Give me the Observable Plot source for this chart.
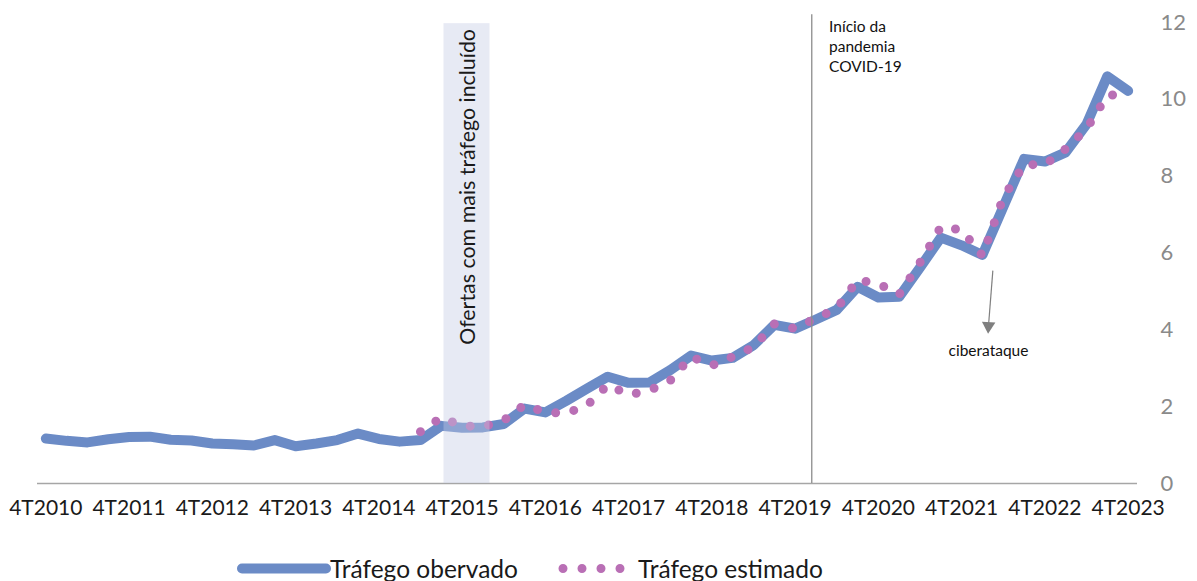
<!DOCTYPE html>
<html>
<head>
<meta charset="utf-8">
<script src="https://cdn.jsdelivr.net/npm/d3@7"></script>
<script src="https://cdn.jsdelivr.net/npm/@observablehq/plot@0.6"></script>
<style>
  html, body { margin: 0; padding: 0; background: #fff; }
  body { font-family: Lato, "Open Sans", sans-serif; color: #1a1a1a; }
  #legend { position: relative; width: 1197px; height: 48px; }
  .lg { position: absolute; top: 35px; transform: translateY(-50%); display: flex; align-items: center; font-size: 24.5px; white-space: nowrap; }
  .lg svg { display: block; }
</style>
</head>
<body>
<div id="chart"></div>
<div id="legend"></div>
<script>
// ---- Data ----
const quarters = [
  "4T2010",
  "1T2011","2T2011","3T2011","4T2011",
  "1T2012","2T2012","3T2012","4T2012",
  "1T2013","2T2013","3T2013","4T2013",
  "1T2014","2T2014","3T2014","4T2014",
  "1T2015","2T2015","3T2015","4T2015",
  "1T2016","2T2016","3T2016","4T2016",
  "1T2017","2T2017","3T2017","4T2017",
  "1T2018","2T2018","3T2018","4T2018",
  "1T2019","2T2019","3T2019","4T2019",
  "1T2020","2T2020","3T2020","4T2020",
  "1T2021","2T2021","3T2021","4T2021",
  "1T2022","2T2022","3T2022","4T2022",
  "1T2023","2T2023","3T2023","4T2023"
];
const observed = [
  1.17,
  1.11, 1.07, 1.15, 1.21,
  1.22, 1.14, 1.12, 1.04,
  1.02, 0.99, 1.13, 0.97,
  1.04, 1.13, 1.30, 1.16,
  1.09, 1.13, 1.50, 1.45,
  1.46, 1.55, 1.95, 1.85,
  2.15, 2.47, 2.78, 2.62,
  2.63, 2.95, 3.33, 3.20,
  3.27, 3.60, 4.13, 4.03,
  4.27, 4.52, 5.12, 4.84,
  4.86, 5.62, 6.40, 6.20,
  5.95, 7.20, 8.45, 8.38,
  8.62, 9.35, 10.60, 10.22
];
const estimated = [
  null,
  null, null, null, null,
  null, null, null, null,
  null, null, null, null,
  null, null, null, null,
  null, 1.35, 1.72, 1.50,
  1.48, 1.64, 2.05, 1.85,
  1.83, 2.03, 2.57, 2.31,
  2.42, 2.68, 3.30, 3.07,
  3.30, 3.55, 4.15, 4.03,
  4.30, 4.55, 5.30, 5.20,
  4.92, 5.75, 6.68, 6.60,
  5.93, 7.44, 8.30, 8.30,
  8.71, 9.23, 10.10, 10.15
];
const yTicks = [0, 2, 4, 6, 8, 10, 12];
const xTickQuarters = ["4T2010","4T2011","4T2012","4T2013","4T2014","4T2015","4T2016","4T2017","4T2018","4T2019","4T2020","4T2021","4T2022","4T2023"];
const seriesNames = ["Tráfego obervado", "Tráfego estimado"];
const seriesColors = ["#6b8bc6", "#b96fb5"];

// annotations (positions in quarter-index units / value units)
const offerBand = [{x1: 19.13, x2: 21.34, y1: 0, y2: 11.97, label: "Ofertas com mais tráfego incluído", lx: 20.28, ly: 7.72}];
const pandemic = [{x: 36.8, y1: 0, y2: 12.2, label: "Início da\npandemia\nCOVID-19", lx: 37.63, ly: 12.12}];
const cyber = [{x1: 45.5, y1: 5.54, x2: 45.29, y2: 4.1, label: "ciberataque", ly: 3.46}];

// ---- Build table ----
const data = quarters.map((q, i) => ({i, q, obs: observed[i], est: estimated[i]}));
const estData = data.filter(d => d.est != null);
const tickIdx = xTickQuarters.map(q => quarters.indexOf(q));

const chart = Plot.plot({
  width: 1197,
  height: 533,
  marginLeft: 37,
  marginRight: 60,
  marginTop: 22,
  marginBottom: 50,
  x: {domain: [-0.4, 52.45]},
  y: {domain: [0, 12]},
  style: {fontFamily: "Lato, sans-serif", background: "white", overflow: "visible"},
  marks: [
    Plot.ruleY([0], {stroke: "#a6a6a6", strokeWidth: 1.6}),
    Plot.line(data, {x: "i", y: "obs", stroke: seriesColors[0], strokeWidth: 10, strokeLinecap: "round", strokeLinejoin: "round"}),
    Plot.line(estData, {x: "i", y: "est", stroke: seriesColors[1], strokeWidth: 9, strokeDasharray: "0 18.6", strokeLinecap: "round", strokeLinejoin: "round"}),
    Plot.rect(offerBand, {x1: "x1", x2: "x2", y1: "y1", y2: "y2", fill: "rgb(196,203,227)", fillOpacity: 0.4}),
    Plot.text(offerBand, {x: "lx", y: "ly", text: "label", rotate: -90, fontSize: 21.4, fill: "#1a1a1a"}),
    Plot.ruleX(pandemic, {x: "x", y1: "y1", y2: "y2", stroke: "#8c8c8c", strokeWidth: 1.3}),
    Plot.text(pandemic, {x: "lx", y: "ly", text: "label", textAnchor: "start", lineAnchor: "top", fontSize: 15.5, lineHeight: 1.28, fill: "#111"}),
    Plot.link(cyber, {x1: "x1", y1: "y1", x2: "x2", y2: "y2", stroke: "#7f7f7f", strokeWidth: 1.2}),
    Plot.dot(cyber, {x: "x2", y: "y2", symbol: "triangle", r: 5, fill: "#7f7f7f", stroke: null, rotate: 183}),
    Plot.text(cyber, {x: "x2", y: "ly", text: "label", fontSize: 15.5, fill: "#111"}),
    Plot.axisX({ticks: tickIdx, tickFormat: i => quarters[i], tickSize: 0, tickPadding: 17, fontSize: 21, color: "#1a1a1a", label: null}),
    Plot.axisY({anchor: "right", ticks: yTicks, tickSize: 0, tickPadding: 23, fontSize: 22, color: "#8a8a8a", label: null})
  ]
});
document.getElementById("chart").appendChild(chart);

// ---- Legend ----
const legend = document.getElementById("legend");
const item1 = document.createElement("div");
item1.className = "lg";
item1.style.left = "237px";
item1.innerHTML = `<svg width="94" height="14"><line x1="5" y1="7" x2="89" y2="7" stroke="${seriesColors[0]}" stroke-width="10" stroke-linecap="round"/></svg><span style="margin-left:-1px">${seriesNames[0]}</span>`;
legend.appendChild(item1);
const item2 = document.createElement("div");
item2.className = "lg";
item2.style.left = "556px";
item2.innerHTML = `<svg width="76" height="14"><line x1="7" y1="7" x2="66" y2="7" stroke="${seriesColors[1]}" stroke-width="9" stroke-dasharray="0 19" stroke-linecap="round"/></svg><span style="margin-left:6px">${seriesNames[1]}</span>`;
legend.appendChild(item2);
</script>
</body>
</html>
